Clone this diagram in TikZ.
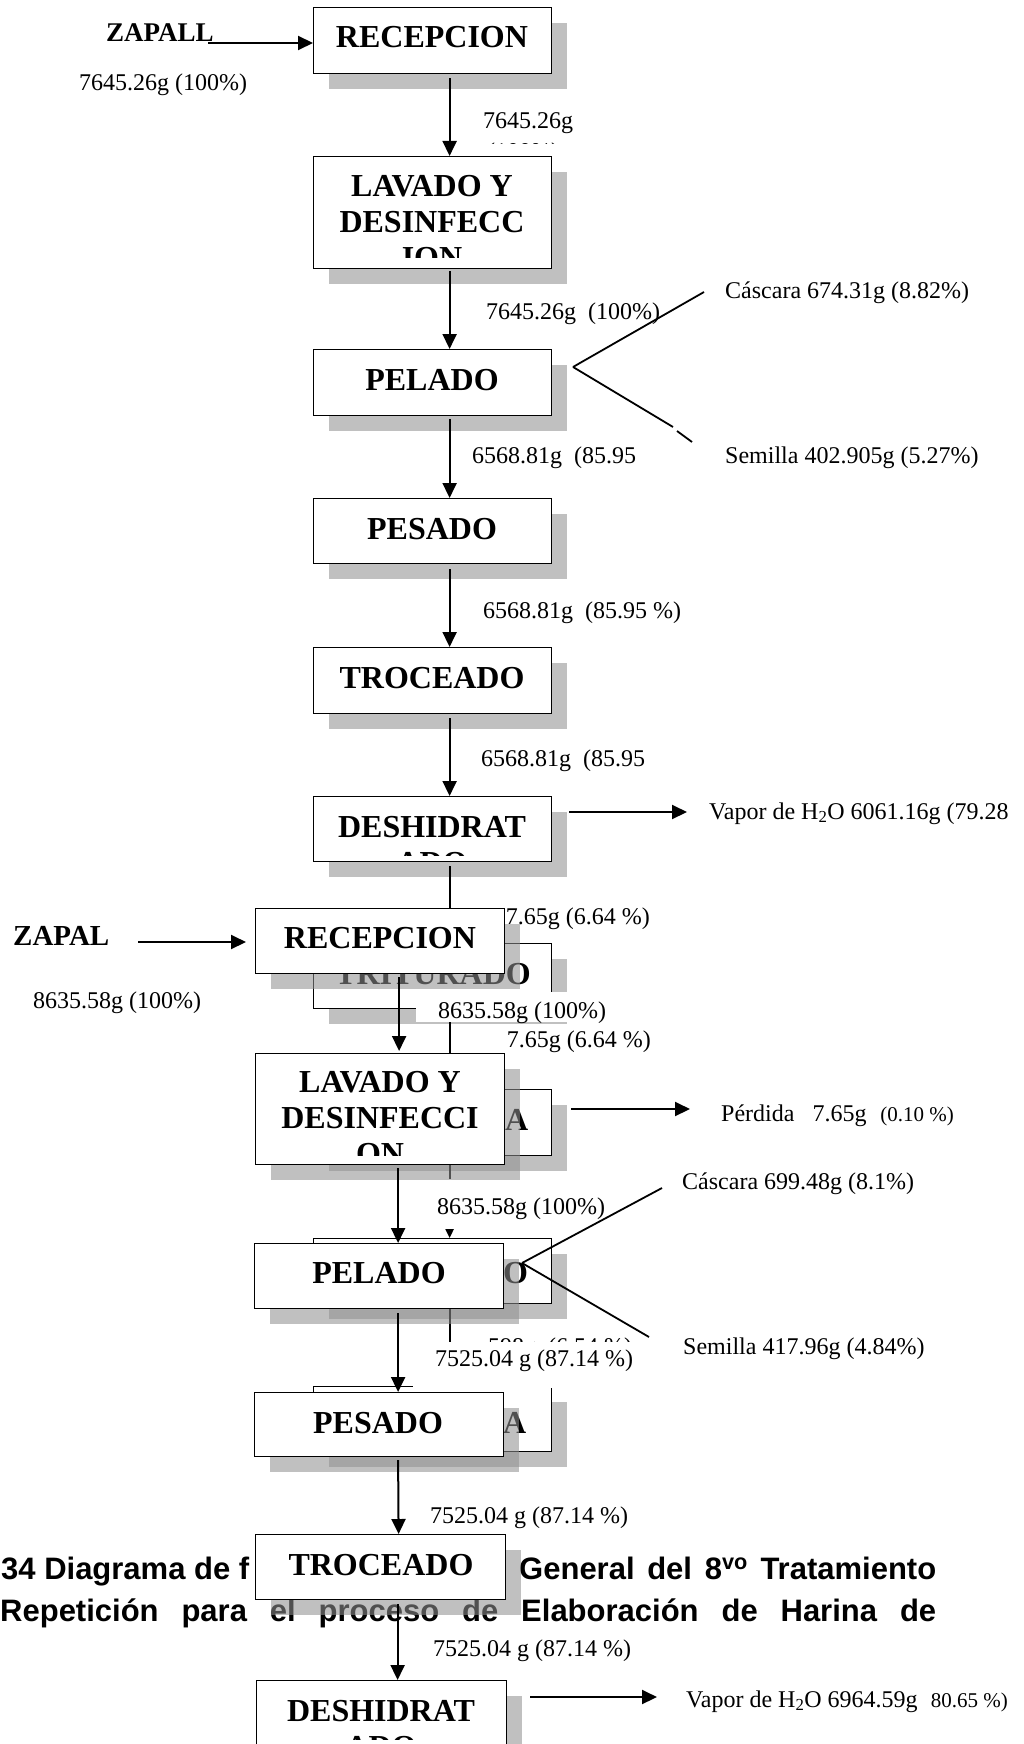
\documentclass[tikz,border=0pt]{standalone}
\usepackage{fontspec}
\setmainfont{Liberation Serif}
\newfontfamily\capfont{Liberation Sans}
\usetikzlibrary{arrows.meta}
\definecolor{shadegray}{RGB}{143,143,143}
\tikzset{
  procbox/.style={draw=black, line width=1.2pt, fill=white, inner sep=0pt, anchor=north west},
  boxshadow/.style={fill=shadegray, fill opacity=0.56, draw=none, inner sep=0pt, anchor=north west},
  boxtext/.style={font=\fontsize{32}{36}\selectfont\bfseries, inner sep=0pt, anchor=base},
  boxtextw/.style={boxtext, anchor=base west},
  flowlabel/.style={font=\fontsize{24}{27}\selectfont, inner sep=0pt, anchor=base west},
  flowlabele/.style={flowlabel, anchor=base east},
  smalllabel/.style={font=\fontsize{21}{24}\selectfont, inner sep=0pt, anchor=base east},
  coverbox/.style={fill=white, draw=none, inner sep=0pt, anchor=north west},
  flow/.style={line width=2pt, -{Triangle[length=15pt,width=14pt]}},
  branch/.style={line width=1.8pt},
  captext/.style={font=\capfont\fontsize{31}{34}\selectfont\bfseries, inner sep=0pt},
}
% shadowed process box: name, left, top, width, height
\newcommand\procnode[5]{%
  \node[boxshadow, minimum width=#4pt, minimum height=#5pt] (#1-sh) at ({#2+16},{#3+16}) {};
  \node[procbox, minimum width=#4pt, minimum height=#5pt] (#1) at (#2,#3) {};}

\begin{document}
\begin{tikzpicture}[x=1pt,y=-1pt]
\useasboundingbox (0,0) rectangle (1024,1744);

% ================= first flow (ZAPALLO) =================
\procnode{rec1}{313}{7}{238}{66}
\procnode{lav1}{313}{156}{238}{112}
\procnode{pel1}{313}{349}{238}{66}
\procnode{pes1}{313}{498}{238}{65}
\procnode{tro1}{313}{647}{238}{66}
\procnode{des1}{313}{796}{238}{65}
\procnode{tri1}{313}{943}{238}{65}
\procnode{mol1}{313}{1089}{238}{66}
\procnode{env1}{313}{1238}{238}{65}
\procnode{pesa1}{313}{1386}{238}{65}

\node[boxtext] (rec1-t) at (432,48) {RECEPCION};
\begin{scope}
  \clip (313,156) rectangle (551,258);
  \node[boxtext] (lav1-t1) at (432,197) {LAVADO Y};
  \node[boxtext] (lav1-t2) at (432,233) {DESINFECC};
  \node[boxtext] (lav1-t3) at (432,269) {ION};
\end{scope}
\node[boxtext] (pel1-t) at (432,390) {PELADO};
\node[boxtext] (pes1-t) at (432,539) {PESADO};
\node[boxtext] (tro1-t) at (432,688) {TROCEADO};
\begin{scope}
  \clip (313,796) rectangle (551,855);
  \node[boxtext] (des1-t1) at (432,837) {DESHIDRAT};
  \node[boxtext] (des1-t2) at (432,873) {ADO};
\end{scope}
\node[boxtext] (tri1-t) at (433,984) {TRITURADO};
\node[boxtextw] (mol1-t) at (505,1130) {A};
\node[boxtextw] (env1-t) at (503,1283) {O};
\node[boxtextw] (pesa1-t) at (503,1433) {A};

% input
\node[boxtextw, font=\fontsize{27}{30}\selectfont\bfseries] (zapall) at (106,42) {ZAPALL};
\coordinate (zapall-out) at (208,43);
\draw[flow] (zapall-out) -- (rec1.west |- zapall-out);
\node[flowlabel] (in1) at (79,91) {7645.26g (100\%)};

% main line
\draw[flow] ([xshift=17pt,yshift=-4pt]rec1.south) -- ([xshift=17pt]lav1.north);
\draw[flow] ([xshift=17pt,yshift=-2pt]lav1.south) -- ([xshift=17pt]pel1.north);
\draw[flow] ([xshift=17pt,yshift=-3pt]pel1.south) -- ([xshift=17pt]pes1.north);
\draw[flow] ([xshift=17pt,yshift=-5pt]pes1.south) -- ([xshift=17pt]tro1.north);
\draw[flow] ([xshift=17pt,yshift=-4pt]tro1.south) -- ([xshift=17pt]des1.north);
\draw[flow] ([xshift=17pt,yshift=-4pt]des1.south) -- ([xshift=17pt]tri1.north);
\draw[flow] ([xshift=17pt,yshift=-4pt]tri1.south) -- ([xshift=17pt]mol1.north);
\draw[flow] ([xshift=17pt,yshift=-4pt]mol1.south) -- ([xshift=17pt]env1.north);
\draw[flow] ([xshift=17pt,yshift=-4pt]env1.south) -- ([xshift=17pt]pesa1.north);

% stream labels
\node[flowlabel] (f1) at (483,129) {7645.26g};
\begin{scope}
  \clip (470,120) rectangle (600,144);
  \node[flowlabel] (f1b) at (487,160) {(100\%)};
\end{scope}
\node[flowlabel] (f2) at (486,319) {7645.26g~~(100\%)};
\node[flowlabel] (f3) at (472,463) {6568.81g~~(85.95};
\node[flowlabel] (f4) at (483,618) {6568.81g~~(85.95 \%)};
\node[flowlabel] (f5) at (481,766) {6568.81g~~(85.95};
\node[flowlabele] (f6) at (650,924) {597.65g (6.64 \%)};
\node[flowlabele] (f7) at (651,1047) {7.65g (6.64 \%)};
\node[flowlabel] (f8) at (488,1354) {598g~~(6.54 \%)};

% peel and seed split
\coordinate (apex1) at (573,367);
\coordinate (casc1) at (704,292);
\coordinate (sem1a) at (673,427);
\coordinate (sem1b) at (677,431);
\coordinate (sem1) at (692,442);
\draw[branch] (apex1) -- (casc1);
\draw[branch] (apex1) -- (sem1a);
\draw[branch] (sem1b) -- (sem1);
\node[flowlabel] (casc1-t) at (725,298) {Cáscara 674.31g (8.82\%)};
\node[flowlabel] (sem1-t) at (725,463) {Semilla 402.905g (5.27\%)};

% water vapour
\coordinate (vap1-tip) at (687,812);
\draw[flow] ([xshift=17pt,yshift=-16pt]des1.north east) -- (vap1-tip);
\node[flowlabel] (vap1-t) at (709,819) {Vapor de H\textsubscript{2}O 6061.16g (79.28};

% loss
\coordinate (perd-tip) at (690,1109);
\draw[flow] ([xshift=19pt,yshift=-20pt]mol1.north east) -- (perd-tip);
\node[flowlabel] (perd-t) at (721,1121) {Pérdida~~~7.65g};
\node[smalllabel] (perd-p) at (954,1121) {(0.10 \%)};

% ================= second flow (ZAPAL) =================
\node[coverbox, minimum width=200pt, minimum height=30pt] (cov1) at (416,992) {};
\node[coverbox, minimum width=190pt, minimum height=50pt] (cov2) at (425,1179) {};
\node[coverbox, minimum width=220pt, minimum height=46pt] (cov3) at (413,1342) {};
\node[flowlabel] (g1) at (438,1018) {8635.58g (100\%)};
\node[flowlabel] (g2) at (437,1214) {8635.58g (100\%)};
\node[flowlabel] (g3) at (435,1366) {7525.04 g (87.14 \%)};

% caption lines behind the second flow
\node[captext, anchor=base west] (cap1a) at (1,1579) {34 Diagrama de f};
\node[captext, anchor=base west] (cap1b) at (519,1579) {\makebox[417pt][s]{General del 8\textsuperscript{vo} Tratamiento}};
\node[captext, anchor=base west] (cap2) at (0,1621) {\makebox[936pt][s]{Repetición para el proceso de Elaboración de Harina de}};

\procnode{rec2}{255}{908}{249}{65}
\procnode{lav2}{255}{1053}{249}{111}
\procnode{pel2}{254}{1243}{249}{65}
\procnode{pes2}{254}{1392}{249}{64}
\procnode{tro2}{255}{1534}{250}{65}
\procnode{des2}{256}{1680}{250}{80}

\node[boxtext] (rec2-t) at (380,948) {RECEPCION};
\begin{scope}
  \clip (255,1053) rectangle (504,1155);
  \node[boxtext] (lav2-t1) at (380,1092) {LAVADO Y};
  \node[boxtext] (lav2-t2) at (380,1128) {DESINFECCI};
  \node[boxtext] (lav2-t3) at (380,1164) {ON};
\end{scope}
\node[boxtext] (pel2-t) at (379,1283) {PELADO};
\node[boxtext] (pes2-t) at (378,1433) {PESADO};
\node[boxtext] (tro2-t) at (381,1575) {TROCEADO};
\begin{scope}
  \clip (256,1680) rectangle (506,1739);
  \node[boxtext] (des2-t1) at (381,1721) {DESHIDRAT};
  \node[boxtext] (des2-t2) at (381,1757) {ADO};
\end{scope}

% input
\node[boxtextw, font=\fontsize{29}{32}\selectfont\bfseries] (zapal) at (13,945) {ZAPAL};
\coordinate (zapal-out) at (138,942);
\draw[flow] (zapal-out) -- ([xshift=-9pt]rec2.west |- zapal-out);
\node[flowlabel] (in2) at (33,1008) {8635.58g (100\%)};

% main line
\draw[flow] ([xshift=19pt,yshift=-3pt]rec2.south) -- ([xshift=19pt,yshift=2pt]lav2.north);
\draw[flow] ([xshift=18pt,yshift=-3pt]lav2.south) -- ([xshift=19pt]pel2.north);
\draw[flow] ([xshift=19pt,yshift=-4pt]pel2.south) -- ([xshift=19pt]pes2.north);
\draw[flow] ([xshift=19pt,yshift=-3pt]pes2.south) -- ([xshift=18pt]tro2.north);
\draw[flow] ([xshift=17pt,yshift=-4pt]tro2.south) -- ([xshift=16pt]des2.north);

\node[flowlabel] (g4) at (430,1523) {7525.04 g (87.14 \%)};
\node[flowlabel] (g5) at (433,1656) {7525.04 g (87.14 \%)};

% peel and seed split
\coordinate (apex2) at (522,1263);
\coordinate (casc2) at (662,1188);
\coordinate (sem2) at (649,1337);
\draw[branch] (apex2) -- (casc2);
\draw[branch] (apex2) -- (sem2);
\node[flowlabel] (casc2-t) at (682,1189) {Cáscara 699.48g (8.1\%)};
\node[flowlabel] (sem2-t) at (683,1354) {Semilla 417.96g (4.84\%)};

% water vapour
\coordinate (vap2-tip) at (657,1697);
\draw[flow] ([xshift=23pt,yshift=-17pt]des2.north east) -- (vap2-tip);
\node[flowlabel] (vap2-t) at (686,1707) {Vapor de H\textsubscript{2}O 6964.59g};
\node[smalllabel] (vap2-p) at (1008,1707) {80.65 \%)};
\end{tikzpicture}
\end{document}
